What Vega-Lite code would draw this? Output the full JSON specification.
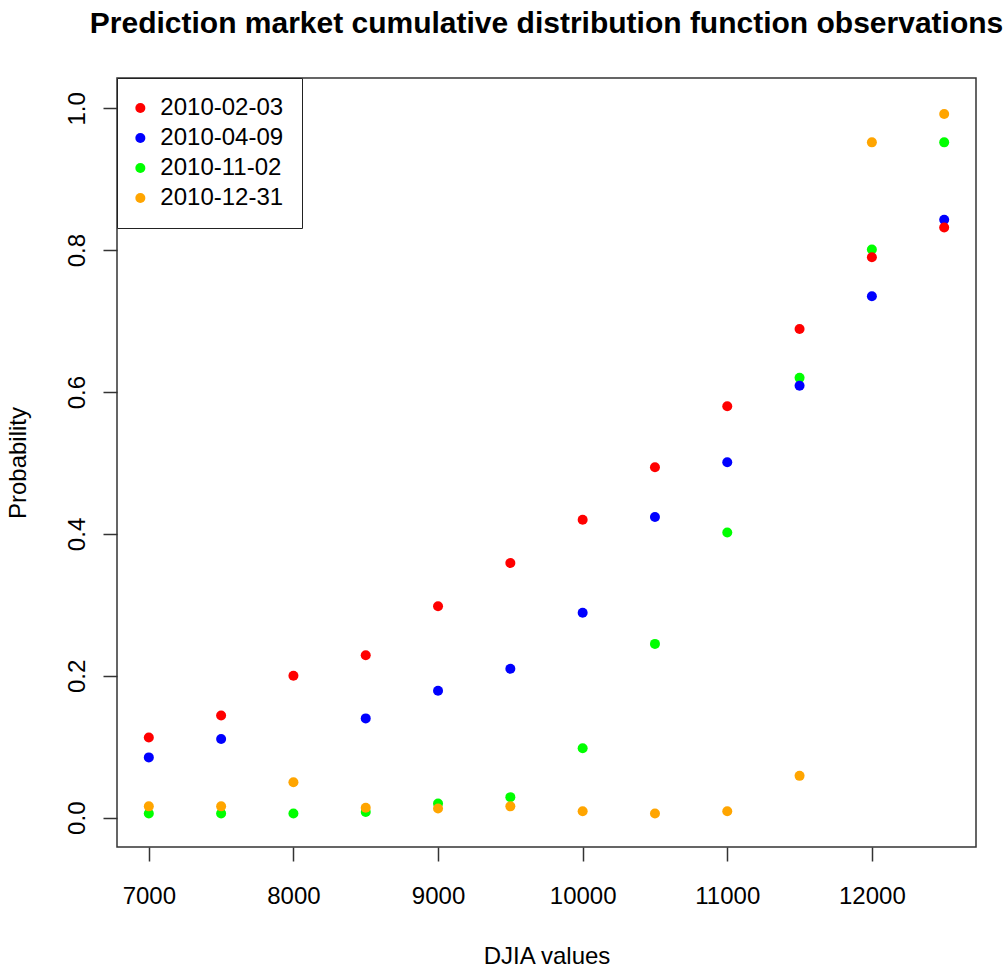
{
  "$schema": "https://vega.github.io/schema/vega-lite/v6.json",
  "autosize": "none",
  "width": 859,
  "height": 769,
  "padding": {"left": 117, "top": 78, "right": 30, "bottom": 125},
  "background": "white",
  "title": {
    "text": "Prediction market cumulative distribution function observations",
    "font": "Liberation Sans",
    "fontSize": 30,
    "fontWeight": "bold",
    "color": "black",
    "anchor": "middle",
    "frame": "group",
    "offset": 39
  },
  "data": {
    "values": [
      {"djia": 7000, "prob": 0.006, "date": "2010-11-02"},
      {"djia": 7500, "prob": 0.006, "date": "2010-11-02"},
      {"djia": 8000, "prob": 0.006, "date": "2010-11-02"},
      {"djia": 8500, "prob": 0.008, "date": "2010-11-02"},
      {"djia": 9000, "prob": 0.02, "date": "2010-11-02"},
      {"djia": 9500, "prob": 0.029, "date": "2010-11-02"},
      {"djia": 10000, "prob": 0.098, "date": "2010-11-02"},
      {"djia": 10500, "prob": 0.245, "date": "2010-11-02"},
      {"djia": 11000, "prob": 0.402, "date": "2010-11-02"},
      {"djia": 11500, "prob": 0.62, "date": "2010-11-02"},
      {"djia": 12000, "prob": 0.801, "date": "2010-11-02"},
      {"djia": 12500, "prob": 0.952, "date": "2010-11-02"},
      {"djia": 7000, "prob": 0.016, "date": "2010-12-31"},
      {"djia": 7500, "prob": 0.016, "date": "2010-12-31"},
      {"djia": 8000, "prob": 0.05, "date": "2010-12-31"},
      {"djia": 8500, "prob": 0.014, "date": "2010-12-31"},
      {"djia": 9000, "prob": 0.013, "date": "2010-12-31"},
      {"djia": 9500, "prob": 0.016, "date": "2010-12-31"},
      {"djia": 10000, "prob": 0.009, "date": "2010-12-31"},
      {"djia": 10500, "prob": 0.006, "date": "2010-12-31"},
      {"djia": 11000, "prob": 0.009, "date": "2010-12-31"},
      {"djia": 11500, "prob": 0.059, "date": "2010-12-31"},
      {"djia": 12000, "prob": 0.952, "date": "2010-12-31"},
      {"djia": 12500, "prob": 0.992, "date": "2010-12-31"},
      {"djia": 7000, "prob": 0.085, "date": "2010-04-09"},
      {"djia": 7500, "prob": 0.111, "date": "2010-04-09"},
      {"djia": 8500, "prob": 0.14, "date": "2010-04-09"},
      {"djia": 9000, "prob": 0.179, "date": "2010-04-09"},
      {"djia": 9500, "prob": 0.21, "date": "2010-04-09"},
      {"djia": 10000, "prob": 0.289, "date": "2010-04-09"},
      {"djia": 10500, "prob": 0.424, "date": "2010-04-09"},
      {"djia": 11000, "prob": 0.501, "date": "2010-04-09"},
      {"djia": 11500, "prob": 0.609, "date": "2010-04-09"},
      {"djia": 12000, "prob": 0.735, "date": "2010-04-09"},
      {"djia": 12500, "prob": 0.843, "date": "2010-04-09"},
      {"djia": 7000, "prob": 0.113, "date": "2010-02-03"},
      {"djia": 7500, "prob": 0.144, "date": "2010-02-03"},
      {"djia": 8000, "prob": 0.2, "date": "2010-02-03"},
      {"djia": 8500, "prob": 0.229, "date": "2010-02-03"},
      {"djia": 9000, "prob": 0.298, "date": "2010-02-03"},
      {"djia": 9500, "prob": 0.359, "date": "2010-02-03"},
      {"djia": 10000, "prob": 0.42, "date": "2010-02-03"},
      {"djia": 10500, "prob": 0.494, "date": "2010-02-03"},
      {"djia": 11000, "prob": 0.58, "date": "2010-02-03"},
      {"djia": 11500, "prob": 0.689, "date": "2010-02-03"},
      {"djia": 12000, "prob": 0.79, "date": "2010-02-03"},
      {"djia": 12500, "prob": 0.832, "date": "2010-02-03"}
    ]
  },
  "mark": {"type": "point", "shape": "circle", "filled": true, "size": 100, "opacity": 1, "strokeWidth": 0},
  "encoding": {
    "x": {
      "field": "djia",
      "type": "quantitative",
      "scale": {"domain": [6780, 12720], "nice": false, "zero": false},
      "axis": {
        "title": "DJIA values",
        "values": [7000, 8000, 9000, 10000, 11000, 12000],
        "format": "d",
        "tickSize": 14,
        "labelPadding": 23,
        "titlePadding": 36
      }
    },
    "y": {
      "field": "prob",
      "type": "quantitative",
      "scale": {"domain": [-0.0413, 1.0427], "nice": false, "zero": false},
      "axis": {
        "title": "Probability",
        "values": [0, 0.2, 0.4, 0.6, 0.8, 1.0],
        "format": ".1f",
        "labelAngle": -90,
        "tickSize": 14,
        "labelPadding": 14,
        "titlePadding": 35
      }
    },
    "color": {
      "field": "date",
      "type": "nominal",
      "scale": {
        "domain": ["2010-02-03", "2010-04-09", "2010-11-02", "2010-12-31"],
        "range": ["#FF0000", "#0000FF", "#00FF00", "#FFA500"]
      },
      "legend": {
        "title": null,
        "orient": "none",
        "legendX": 0,
        "legendY": 0,
        "padding": 18,
        "strokeColor": "#222222",
        "fillColor": "white",
        "symbolType": "circle",
        "symbolSize": 100,
        "symbolStrokeWidth": 0,
        "symbolOpacity": 1,
        "symbolOffset": -6.65,
        "labelFontSize": 24,
        "labelFont": "Liberation Sans",
        "labelColor": "black",
        "labelOffset": 8,
        "rowPadding": 6
      }
    }
  },
  "config": {
    "view": {"stroke": "#333333", "strokeWidth": 1.5},
    "axis": {
      "grid": false,
      "domain": false,
      "tickColor": "#333333",
      "tickWidth": 1.5,
      "labelFont": "Liberation Sans",
      "labelFontSize": 24,
      "labelColor": "black",
      "titleFont": "Liberation Sans",
      "titleFontSize": 24,
      "titleFontWeight": "normal",
      "titleColor": "black"
    }
  }
}
